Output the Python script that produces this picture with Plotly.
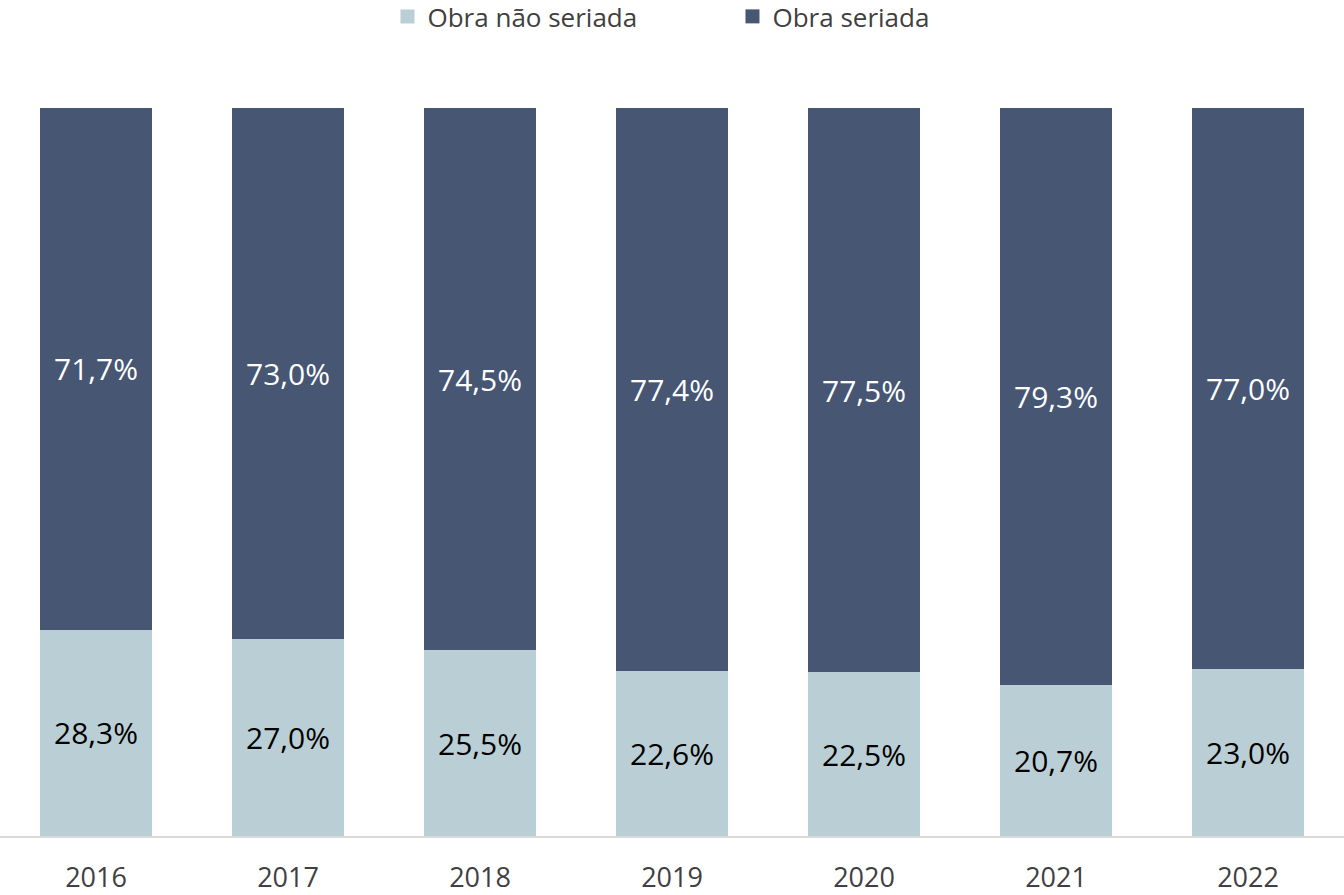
import plotly.graph_objects as go

# anos e participação (%) por tipo de obra
anos = ["2016", "2017", "2018", "2019", "2020", "2021", "2022"]
nao_seriada = [28.3, 27.0, 25.5, 22.6, 22.5, 20.7, 23.0]
seriada = [71.7, 73.0, 74.5, 77.4, 77.5, 79.3, 77.0]
series = ["Obra não seriada", "Obra seriada"]

cor_clara = "#BACFD5"
cor_escura = "#465673"
fonte = "Open Sans, Noto Sans, sans-serif"

fig = go.Figure()

fig.add_trace(go.Bar(
    x=anos, y=nao_seriada, name=series[0], showlegend=False,
    marker=dict(color=cor_clara, line_width=0),
    texttemplate="%{y:.1f}%", textposition="inside", insidetextanchor="middle",
    textfont=dict(color="#000000", size=30, family=fonte),
))
fig.add_trace(go.Bar(
    x=anos, y=seriada, name=series[1], showlegend=False,
    marker=dict(color=cor_escura, line_width=0),
    texttemplate="%{y:.1f}%", textposition="inside", insidetextanchor="middle",
    textfont=dict(color="#FFFFFF", size=30, family=fonte),
))

# legenda com quadrados maiores
for nome, cor in zip(series, [cor_clara, cor_escura]):
    fig.add_trace(go.Scatter(
        x=[None], y=[None], mode="markers", name=nome,
        marker=dict(symbol="square", size=14, color=cor),
    ))

fig.update_layout(
    barmode="stack",
    bargap=0.417,
    separators=",.",
    width=1344, height=895,
    margin=dict(l=0, r=0, t=108, b=59, autoexpand=False),
    plot_bgcolor="white", paper_bgcolor="white",
    font=dict(family=fonte, size=26, color="#404040"),
    legend=dict(
        orientation="h", x=0.545, xanchor="center", y=1.158, yanchor="top",
        font=dict(size=26, color="#404040"),
        entrywidth=300,
        traceorder="normal",
    ),
    xaxis=dict(
        showgrid=False, showline=True, linecolor="#D9D9D9", linewidth=2,
        ticks="outside", ticklen=17, tickcolor="rgba(0,0,0,0)",
        tickfont=dict(size=27, color="#404040"),
    ),
    yaxis=dict(visible=False, range=[0, 100]),
)

fig.write_html("out.html", config={"displayModeBar": False},
               post_script="document.body.style.margin='0';")
